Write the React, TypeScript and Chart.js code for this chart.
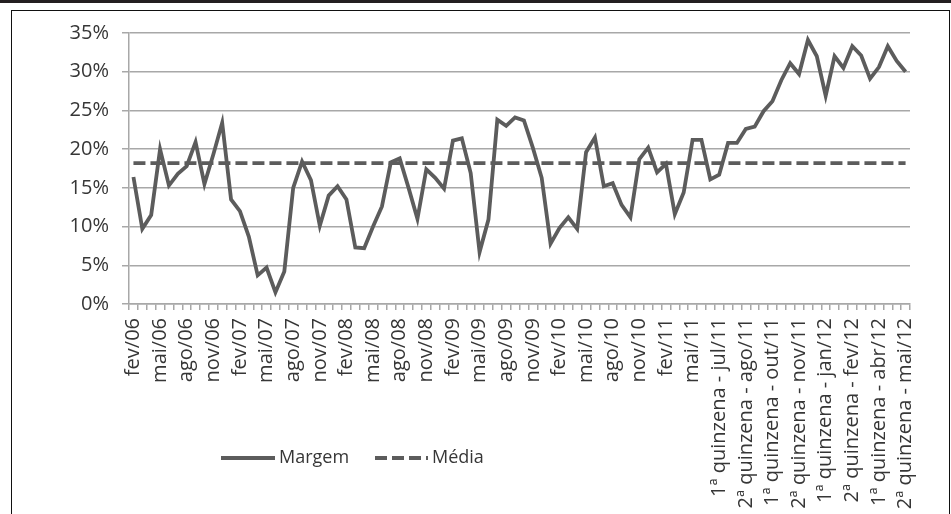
import React, { useEffect, useRef } from "react";
import { Chart, registerables } from "chart.js";

Chart.register(...registerables);

const categories: string[] = [
  "fev/06", "mar/06", "abr/06", "mai/06", "jun/06", "jul/06", "ago/06", "set/06", "out/06", "nov/06", "dez/06",
  "jan/07", "fev/07", "mar/07", "abr/07", "mai/07", "jun/07", "jul/07", "ago/07", "set/07", "out/07", "nov/07", "dez/07",
  "jan/08", "fev/08", "mar/08", "abr/08", "mai/08", "jun/08", "jul/08", "ago/08", "set/08", "out/08", "nov/08", "dez/08",
  "jan/09", "fev/09", "mar/09", "abr/09", "mai/09", "jun/09", "jul/09", "ago/09", "set/09", "out/09", "nov/09", "dez/09",
  "jan/10", "fev/10", "mar/10", "abr/10", "mai/10", "jun/10", "jul/10", "ago/10", "set/10", "out/10", "nov/10", "dez/10",
  "jan/11", "fev/11", "mar/11", "abr/11", "mai/11",
  "1ª quinzena - jun/11", "2ª quinzena - jun/11",
  "1ª quinzena - jul/11", "2ª quinzena - jul/11",
  "1ª quinzena - ago/11", "2ª quinzena - ago/11",
  "1ª quinzena - set/11", "2ª quinzena - set/11",
  "1ª quinzena - out/11", "2ª quinzena - out/11",
  "1ª quinzena - nov/11", "2ª quinzena - nov/11",
  "1ª quinzena - dez/11", "2ª quinzena - dez/11",
  "1ª quinzena - jan/12", "2ª quinzena - jan/12",
  "1ª quinzena - fev/12", "2ª quinzena - fev/12",
  "1ª quinzena - mar/12", "2ª quinzena - mar/12",
  "1ª quinzena - abr/12", "2ª quinzena - abr/12",
  "1ª quinzena - mai/12", "2ª quinzena - mai/12",
];

const margem: number[] = [
  16.4, 9.7, 11.5, 20.0, 15.3, 16.8, 17.8, 20.9, 15.5, 19.3, 23.4,
  13.5, 12.0, 8.7, 3.7, 4.7, 1.5, 4.2, 15.0, 18.4, 16.0, 10.1, 14.0,
  15.2, 13.5, 7.3, 7.2, 10.0, 12.6, 18.3, 18.8, 15.0, 11.0, 17.4, 16.3,
  14.9, 21.1, 21.4, 16.9, 6.7, 10.9, 23.8, 23.0, 24.1, 23.7, 20.2, 16.3,
  7.8, 9.8, 11.2, 9.7, 19.6, 21.5, 15.2, 15.6, 12.8, 11.2, 18.7, 20.2,
  17.0, 18.1, 11.6, 14.4, 21.2,
  21.2, 16.1, 16.7, 20.8, 20.8, 22.6, 22.9, 24.9, 26.2, 28.9, 31.1, 29.7,
  34.1, 32.0, 26.9, 32.0, 30.5, 33.3, 32.1, 29.1, 30.6, 33.3, 31.4, 30.0,
];

const mediaValue = 18.2;
const media: number[] = categories.map(() => mediaValue);

const yTicks: number[] = [0, 5, 10, 15, 20, 25, 30, 35];

const FONT = "'Open Sans', 'DejaVu Sans', sans-serif";
const LINE = "#5c5c5c";
const TEXT = "#363636";
const GRID = "#a8a8a8";

const legendPlugin = {
  id: "customLegend",
  afterDraw(chart: any) {
    const ctx = chart.ctx;
    const ds = chart.data.datasets;
    const items = [
      { x: 221, len: 54, textX: 279, idx: 0 },
      { x: 375, len: 53, textX: 432, idx: 1 },
    ];
    const cy = 458;
    ctx.save();
    ctx.font = `18px ${FONT}`;
    ctx.textBaseline = "middle";
    ctx.fillStyle = TEXT;
    for (const it of items) {
      const d = ds[it.idx];
      ctx.beginPath();
      ctx.strokeStyle = d.borderColor;
      ctx.lineWidth = d.borderWidth;
      ctx.setLineDash(d.borderDash || []);
      ctx.moveTo(it.x, cy);
      ctx.lineTo(it.x + it.len, cy);
      ctx.stroke();
      ctx.setLineDash([]);
      ctx.fillText(d.label, it.textX, cy);
    }
    ctx.restore();
  },
};

export default function App() {
  const ref = useRef<HTMLCanvasElement | null>(null);

  useEffect(() => {
    if (!ref.current) return;
    const chart = new Chart(ref.current, {
      type: "line",
      data: {
        labels: categories,
        datasets: [
          {
            label: "Margem",
            data: margem,
            borderColor: LINE,
            borderWidth: 3.8,
            pointRadius: 0,
            tension: 0,
            fill: false,
          },
          {
            label: "Média",
            data: media,
            borderColor: LINE,
            borderWidth: 3.8,
            borderDash: [12, 5],
            pointRadius: 0,
            tension: 0,
            fill: false,
          },
        ],
      },
      options: {
        animation: false,
        responsive: false,
        maintainAspectRatio: false,
        events: [],
        layout: { padding: { left: 0, top: 33, right: 41, bottom: 0 } },
        plugins: {
          legend: { display: false },
          tooltip: { enabled: false },
        },
        scales: {
          x: {
            offset: true,
            grid: {
              offset: true,
              drawOnChartArea: false,
              drawTicks: true,
              tickLength: 6,
              color: GRID,
              lineWidth: 1.5,
            },
            border: { display: true, color: GRID, width: 1.5 },
            ticks: {
              autoSkip: false,
              maxRotation: 90,
              minRotation: 90,
              padding: 8,
              color: TEXT,
              font: { family: FONT, size: 20 },
              callback: (_v: any, i: number) => (i % 3 === 0 ? categories[i] : ""),
            },
            afterFit: (s: any) => {
              s.height = 210;
            },
          },
          y: {
            min: 0,
            max: 35,
            afterBuildTicks: (s: any) => {
              s.ticks = yTicks.map((v) => ({ value: v }));
            },
            ticks: {
              padding: 13,
              color: TEXT,
              font: { family: FONT, size: 20 },
              callback: (v: any) => `${v}%`,
            },
            grid: { color: GRID, lineWidth: 1.5, tickLength: 7, drawTicks: true },
            border: { display: true, color: GRID, width: 1.5 },
            afterFit: (s: any) => {
              s.width = 129;
            },
          },
        },
      },
      plugins: [legendPlugin],
    });
    return () => chart.destroy();
  }, []);

  return (
    <div
      style={{
        position: "absolute",
        left: 0,
        top: 0,
        width: 951,
        height: 514,
        overflow: "hidden",
        background: "#fff",
      }}
    >
      <div style={{ position: "absolute", left: 0, top: 0, width: 951, height: 3, background: "#231f20" }} />
      <div
        style={{
          position: "absolute",
          left: 11,
          top: 10,
          width: 937,
          height: 520,
          borderTop: "1.5px solid #111",
          borderLeft: "1.5px solid #111",
          borderRight: "1.5px solid #111",
        }}
      />
      <canvas ref={ref} width={951} height={514} style={{ position: "absolute", left: 0, top: 0 }} />
    </div>
  );
}
